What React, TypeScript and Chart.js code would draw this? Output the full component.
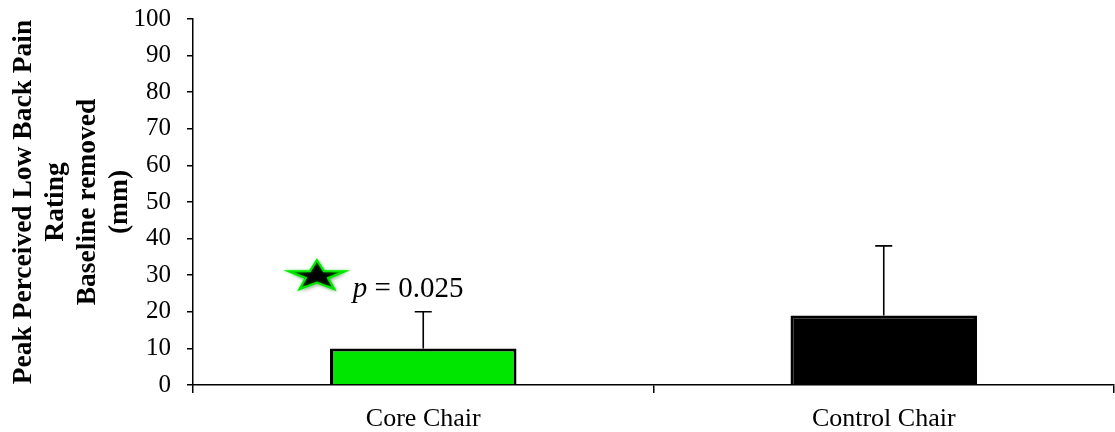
import React, { useEffect, useRef } from "react";
import { Chart, registerables } from "chart.js";

Chart.register(...registerables);

const categories = ["Core Chair", "Control Chair"];
const meanValues = [10, 19];
const upperErrors = [10, 19];
const barColors = ["#00e600", "#000000"];
const yTicks = [0, 10, 20, 30, 40, 50, 60, 70, 80, 90, 100];
const yTitleLines = ["Peak Perceived Low Back Pain", "Rating", "Baseline removed", "(mm)"];

// significance annotation (category index, offset in category widths, value)
const starCategory = 0;
const starCategoryOffset = -0.231;
const starValue = 30;
const pCategory = 0;
const pCategoryOffset = -0.153;
const pValue = 24;
const pLabel = "p";
const pRest = " = 0.025";

const FONT = "'Liberation Serif', 'Times New Roman', serif";

const annotationsPlugin = {
  id: "annotations",
  afterDatasetsDraw(chart: any) {
    const ctx = chart.ctx;
    const xs = chart.scales.x;
    const ys = chart.scales.y;
    const meta = chart.getDatasetMeta(0);
    const catW = (xs.right - xs.left) / categories.length;

    // error bars
    ctx.save();
    ctx.strokeStyle = "#000";
    ctx.lineWidth = 1.6;
    meta.data.forEach((bar: any, i: number) => {
      const x = bar.x;
      const yb = ys.getPixelForValue(meanValues[i]);
      const yt = ys.getPixelForValue(meanValues[i] + upperErrors[i]);
      ctx.beginPath();
      ctx.moveTo(x, yb);
      ctx.lineTo(x, yt);
      ctx.moveTo(x - 8.5, yt);
      ctx.lineTo(x + 8.5, yt);
      ctx.stroke();
    });
    ctx.restore();

    // star
    const sx = xs.getPixelForValue(starCategory) + starCategoryOffset * catW;
    const sy = ys.getPixelForValue(starValue);
    const Ro = 29.5;
    const Ri = Ro * 0.4;
    const scaleY = 0.54;
    ctx.save();
    ctx.beginPath();
    for (let k = 0; k < 10; k++) {
      const ang = -Math.PI / 2 + (k * Math.PI) / 5;
      const r = k % 2 === 0 ? Ro : Ri;
      const px = sx + r * Math.cos(ang);
      const py = sy + 1 + r * Math.sin(ang) * scaleY;
      if (k === 0) ctx.moveTo(px, py);
      else ctx.lineTo(px, py);
    }
    ctx.closePath();
    ctx.shadowColor = "rgba(0,0,0,0.35)";
    ctx.shadowBlur = 4;
    ctx.shadowOffsetX = 2;
    ctx.shadowOffsetY = 2;
    ctx.fillStyle = "#000";
    ctx.fill();
    ctx.shadowColor = "rgba(0,230,0,0.6)";
    ctx.shadowBlur = 3;
    ctx.shadowOffsetX = 0;
    ctx.shadowOffsetY = 0;
    ctx.strokeStyle = "#00e600";
    ctx.lineWidth = 2.2;
    ctx.lineJoin = "miter";
    ctx.stroke();
    ctx.restore();

    // p value text
    const tx = xs.getPixelForValue(pCategory) + pCategoryOffset * catW;
    const ty = ys.getPixelForValue(pValue);
    ctx.save();
    ctx.fillStyle = "#000";
    ctx.textAlign = "left";
    ctx.textBaseline = "alphabetic";
    ctx.font = `italic 29px ${FONT}`;
    ctx.fillText(pLabel, tx, ty);
    const w = ctx.measureText(pLabel).width;
    ctx.font = `29px ${FONT}`;
    ctx.fillText(pRest, tx + w, ty);
    ctx.restore();
  },
};

export default function App() {
  const ref = useRef<HTMLCanvasElement | null>(null);
  useEffect(() => {
    if (!ref.current) return;
    const chart = new Chart(ref.current, {
      type: "bar",
      data: {
        labels: categories,
        datasets: [
          {
            data: meanValues,
            backgroundColor: barColors,
            borderColor: "#000",
            borderWidth: 3,
            categoryPercentage: 1,
            barPercentage: 0.405,
          },
        ],
      },
      options: {
        animation: false,
        responsive: false,
        maintainAspectRatio: false,
        layout: { padding: { left: 8, right: 1, top: 19, bottom: 0 } },
        plugins: { legend: { display: false }, tooltip: { enabled: false } },
        scales: {
          x: {
            afterFit: (axis: any) => {
              axis.height = 47;
              axis.paddingLeft = 0;
              axis.paddingRight = 0;
            },
            grid: {
              display: true,
              drawOnChartArea: false,
              offset: true,
              tickLength: 8,
              color: "#000",
              lineWidth: 1.5,
            },
            border: { color: "#000", width: 1.5 },
            ticks: { color: "#000", font: { family: FONT, size: 26 }, padding: 11 },
          },
          y: {
            min: 0,
            max: 100,
            afterBuildTicks: (axis: any) => {
              axis.ticks = yTicks.map((v) => ({ value: v }));
            },
            afterFit: (axis: any) => {
              axis.width = 185;
              axis.paddingTop = 0;
              axis.paddingBottom = 0;
            },
            grid: {
              display: true,
              drawOnChartArea: false,
              tickLength: 6,
              color: "#000",
              lineWidth: 1.5,
            },
            border: { color: "#000", width: 1.5 },
            ticks: { color: "#000", font: { family: FONT, size: 25 }, padding: 16 },
            title: {
              display: true,
              text: yTitleLines,
              color: "#000",
              font: { family: FONT, size: 27.5, weight: "bold", lineHeight: 1.16 },
              padding: { top: 0, bottom: 4 },
            },
          },
        },
      },
      plugins: [annotationsPlugin],
    } as any);
    return () => chart.destroy();
  }, []);
  return (
    <div style={{ position: "fixed", left: 0, top: 0, width: 1115, height: 432, background: "#fff" }}>
      <canvas ref={ref} width={1115} height={432} style={{ display: "block" }} />
    </div>
  );
}
